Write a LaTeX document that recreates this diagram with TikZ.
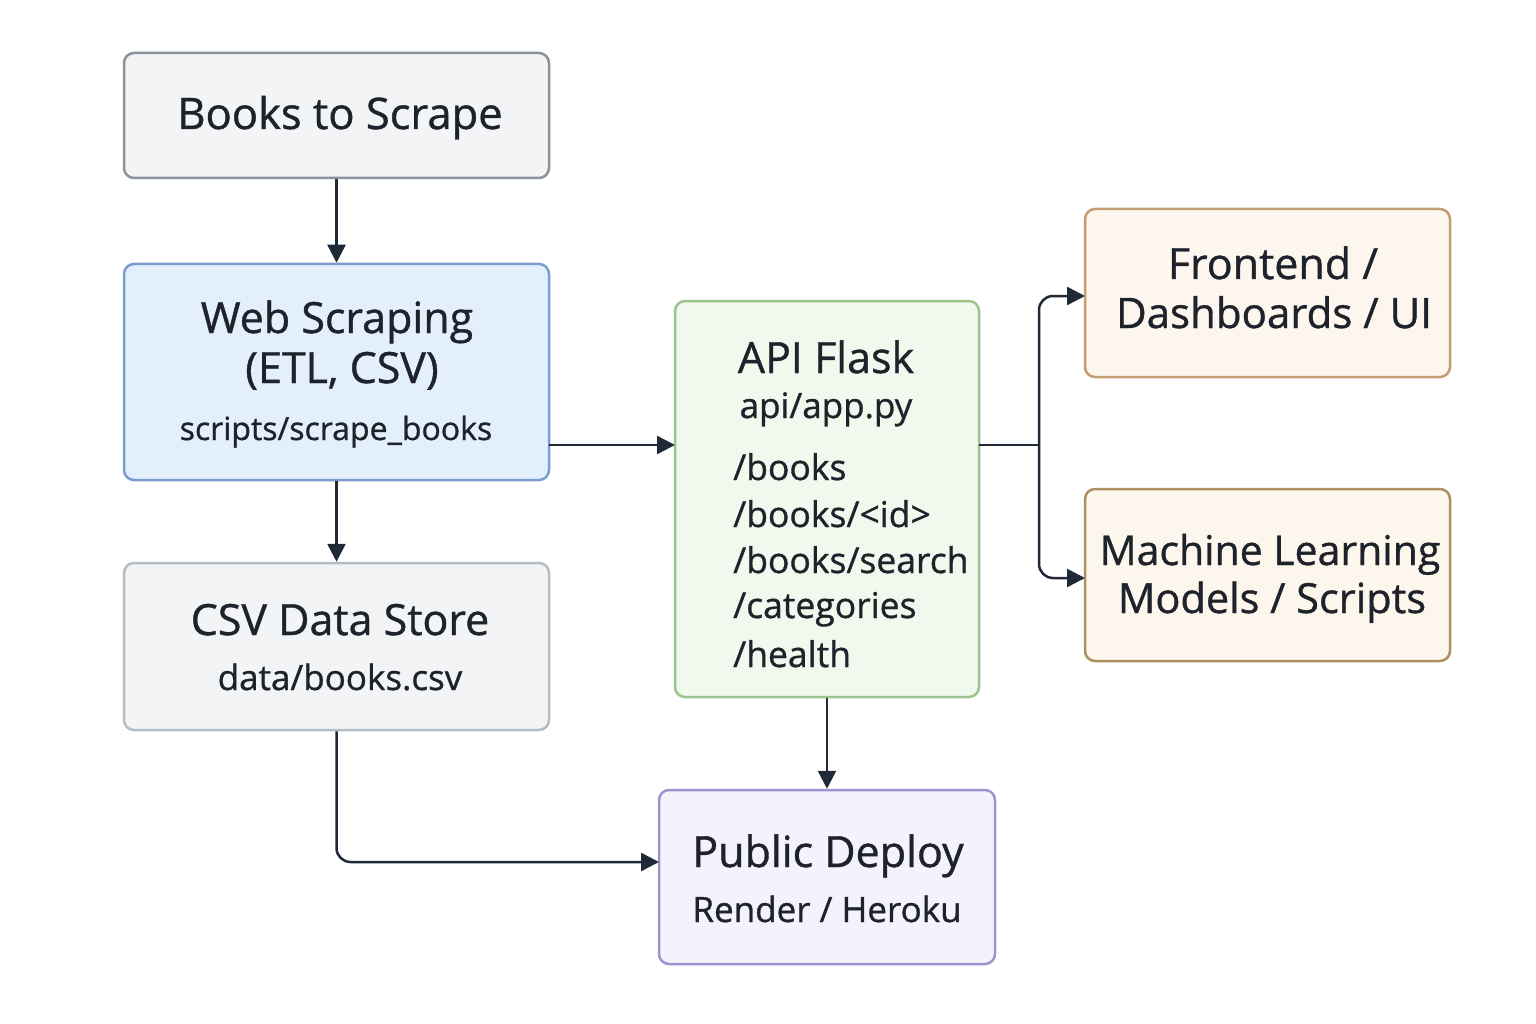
\documentclass[tikz,border=0pt]{standalone}
\usepackage{fontspec}
\setmainfont{Open Sans}[FakeBold=0.9]
\usetikzlibrary{arrows.meta}
\definecolor{ink}{HTML}{1E232B}
\definecolor{arr}{HTML}{1F2937}
\definecolor{bkF}{HTML}{F3F4F6}\definecolor{bkD}{HTML}{8B929C}
\definecolor{wsF}{HTML}{E4EFFC}\definecolor{wsD}{HTML}{7C9BD1}
\definecolor{csF}{HTML}{F2F4F6}\definecolor{csD}{HTML}{B4BDC6}
\definecolor{apF}{HTML}{F1F8ED}\definecolor{apD}{HTML}{9BC48E}
\definecolor{feF}{HTML}{FDF6EE}\definecolor{feD}{HTML}{C49C72}
\definecolor{mlF}{HTML}{FDF6EC}\definecolor{mlD}{HTML}{AC9062}
\definecolor{dpF}{HTML}{F4F3FD}\definecolor{dpD}{HTML}{9D92D2}
\tikzset{
  box/.style={draw, rectangle, rounded corners=10pt, line width=2.5pt, inner sep=0pt},
  ttl/.style={anchor=base, inner sep=0pt, text=ink, font=\fontsize{43}{50}\selectfont},
  sub/.style={anchor=base, inner sep=0pt, text=ink, font=\fontsize{35}{42}\selectfont},
  route/.style={anchor=base west, inner sep=0pt, text=ink, font=\fontsize{35.5}{42}\selectfont},
  conn/.style={draw=arr, line width=2.5pt, -{Triangle[length=18pt,width=18pt]}},
  plain/.style={draw=arr, line width=2.5pt},
}
\begin{document}
\begin{tikzpicture}[x=1pt,y=-1pt]
\useasboundingbox[fill=white] (0,0) rectangle (1536,1024);
% boxes
\node[box, fill=bkF, draw=bkD, minimum width=425pt, minimum height=125pt] (books) at (336.5,115.5) {};
\node[box, fill=wsF, draw=wsD, minimum width=425pt, minimum height=216pt] (web) at (336.5,372) {};
\node[box, fill=csF, draw=csD, minimum width=425pt, minimum height=167pt] (csv) at (336.5,646.5) {};
\node[box, fill=apF, draw=apD, minimum width=304pt, minimum height=396pt] (api) at (827,499) {};
\node[box, fill=feF, draw=feD, minimum width=365pt, minimum height=168pt] (fe) at (1267.5,293) {};
\node[box, fill=mlF, draw=mlD, minimum width=365pt, minimum height=172pt] (ml) at (1267.5,575) {};
\node[box, fill=dpF, draw=dpD, minimum width=336pt, minimum height=174pt] (dep) at (827,877) {};
% texts
\node[ttl, font=\fontsize{43.5}{50}\selectfont] (t1) at (340,129) {Books to Scrape};
\node[ttl] (t2) at (337,333) {Web Scraping};
\node[ttl] (t3) at (342,383) {(ETL, CSV)};
\node[sub, font=\fontsize{32}{40}\selectfont] (t4) at (336,440) {scripts/scrape\_books};
\node[ttl] (t5) at (340,635) {CSV Data Store};
\node[sub] (t6) at (340,690) {data/books.csv};
\node[ttl] (t7) at (826,373) {API Flask};
\node[sub] (t8) at (826,418) {api/app.py};
\node[route] (r1) at (733,480) {/books};
\node[route] (r2) at (733,527) {/books/<id>};
\node[route] (r3) at (733,573) {/books/search};
\node[route] (r4) at (733,618) {/categories};
\node[route] (r5) at (733,667) {/health};
\node[ttl] (t9) at (1273,279) {Frontend /};
\node[ttl, font=\fontsize{42}{50}\selectfont] (t10) at (1274,328) {Dashboards / UI};
\node[ttl, font=\fontsize{41}{50}\selectfont] (t11) at (1270,565) {Machine Learning};
\node[ttl, font=\fontsize{41.5}{50}\selectfont] (t12) at (1272,613) {Models / Scripts};
\node[ttl] (t13) at (828,867) {Public Deploy};
\node[sub] (t14) at (827,922) {Render / Heroku};
% connector helpers
\coordinate (wsOut) at (549,445);
\coordinate (apIn) at (675,445);
\coordinate (apOut) at (979,445);
\coordinate (jn) at (1039,445);
\coordinate (feIn) at (1085,296);
\coordinate (mlIn) at (1085,578);
\coordinate (dpIn) at (659,862);
% connectors
\draw[conn] (books.south) -- (web.north);
\draw[conn] (web.south) -- (csv.north);
\draw[conn] (wsOut) -- (apIn);
\draw[conn] (api.south) -- (api.south |- dep.north);
\draw[conn, rounded corners=14pt] (csv.south) |- (dpIn);
\draw[plain] (apOut) -- (jn);
\draw[conn, rounded corners=14pt] (jn) |- (feIn);
\draw[conn, rounded corners=14pt] (jn) |- (mlIn);
\end{tikzpicture}
\end{document}
